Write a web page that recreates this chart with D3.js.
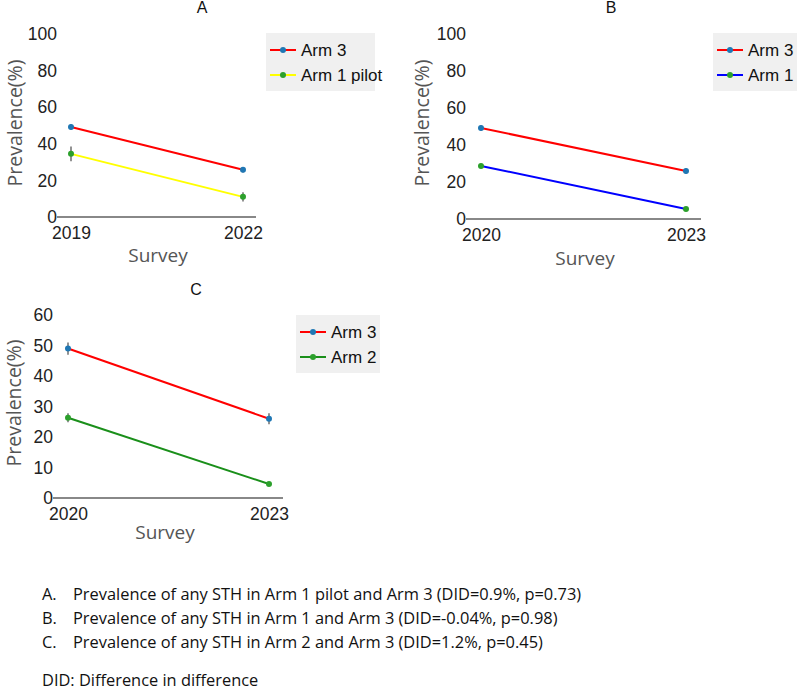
<!DOCTYPE html>
<html>
<head>
<meta charset="utf-8">
<script src="https://cdn.jsdelivr.net/npm/d3@7"></script>
<style>
	body { margin: 0; background: white; }
	svg { display: block; }
</style>
</head>
<body>
<div id="visualizationWrapper"></div>
<script>

let w = 797;
let h = 690;

// data
let titles = ["A", "B", "C"];

let yearsA = [2019, 2022];
let arm3A = [49.2, 25.8];
let arm3ErrA = [1.5, 1.5];
let arm1PilotA = [34.5, 11];
let arm1PilotErrA = [4, 2.5];

let yearsB = [2020, 2023];
let arm3B = [49.2, 26];
let arm3ErrB = [1.5, 1.5];
let arm1B = [28.7, 5.4];
let arm1ErrB = [1.2, 0.8];

let yearsC = [2020, 2023];
let arm3C = [49, 26];
let arm3ErrC = [2, 1.8];
let arm2C = [26.3, 4.6];
let arm2ErrC = [1.5, 0.6];

let yTicksAB = [0, 20, 40, 60, 80, 100];
let yTicksC = [0, 10, 20, 30, 40, 50, 60];

let legendA = ["Arm 3", "Arm 1 pilot"];
let legendB = ["Arm 3", "Arm 1"];
let legendC = ["Arm 3", "Arm 2"];

let notes = [
	["A.", "Prevalence of any STH in Arm 1 pilot and Arm 3 (DID=0.9%, p=0.73)"],
	["B.", "Prevalence of any STH in Arm 1 and Arm 3 (DID=-0.04%, p=0.98)"],
	["C.", "Prevalence of any STH in Arm 2 and Arm 3 (DID=1.2%, p=0.45)"]
];
let didNote = "DID: Difference in difference";


let viz = d3.select("#visualizationWrapper").append("svg")
	.attr("width", w)
	.attr("height", h)
	.style("background-color", "white")
;

let tickFont = "Liberation Sans, Arial, sans-serif";
let titleFont = "Open Sans, sans-serif";


function drawPanel(p){

	let g = viz.append("g").attr("class", "panel");

	let xScale = d3.scaleLinear().domain(p.years).range(p.xTicks);
	let yScale = d3.scaleLinear().domain([0, p.yMax]).range([p.y0, p.yTop]);

	// y axis labels, no tick marks, no domain line
	let yAxis = d3.axisLeft(yScale).tickValues(p.yTicks).tickSize(0).tickPadding(0);
	let yg = g.append("g").attr("transform", "translate(" + p.xLeft + ",0)").call(yAxis);
	yg.select(".domain").remove();
	yg.selectAll("text")
			.attr("font-family", tickFont)
			.attr("font-size", 17.5)
			.attr("fill", "#222")
	;

	// x axis
	let xAxis = d3.axisBottom(xScale).tickValues(p.years).tickSize(0).tickPadding(10).tickFormat(d3.format("d"));
	let xg = g.append("g").attr("transform", "translate(0," + p.y0 + ")").call(xAxis);
	xg.select(".domain").remove();
	xg.selectAll("text")
			.attr("font-family", tickFont)
			.attr("font-size", 17.5)
			.attr("fill", "#222")
	;

	g.append("line")
			.attr("x1", p.xLeft)
			.attr("x2", p.xRight)
			.attr("y1", p.y0)
			.attr("y2", p.y0)
			.attr("stroke", "#888")
			.attr("stroke-width", 2)
	;

	// title + axis titles
	g.append("text")
			.attr("x", p.titleX)
			.attr("y", p.titleY)
			.attr("text-anchor", "middle")
			.attr("font-family", tickFont)
			.attr("font-size", 16)
			.attr("fill", "#111")
			.text(p.title)
	;
	g.append("text")
			.attr("x", p.surveyX)
			.attr("y", p.surveyY)
			.attr("text-anchor", "middle")
			.attr("font-family", titleFont)
			.attr("font-size", 19)
			.attr("fill", "#555")
			.text("Survey")
	;
	g.append("text")
			.attr("transform", "translate(" + p.ylabX + "," + p.ylabY + ") rotate(-90)")
			.attr("text-anchor", "middle")
			.attr("font-family", titleFont)
			.attr("font-size", 19.5)
			.attr("fill", "#555")
			.text("Prevalence(%)")
	;

	// series
	p.series.forEach(function(s){
		let pts = p.years.map(function(yr, i){
			return {x: yr, v: s.values[i], e: s.errs[i]};
		});

		let line = d3.line()
				.x(function(d){ return xScale(d.x); })
				.y(function(d){ return yScale(d.v); })
		;
		g.append("path")
				.datum(pts)
				.attr("d", line)
				.attr("fill", "none")
				.attr("stroke", s.color)
				.attr("stroke-width", 2)
		;

		g.selectAll(null).data(pts).enter().append("line")
				.attr("x1", function(d){ return xScale(d.x); })
				.attr("x2", function(d){ return xScale(d.x); })
				.attr("y1", function(d){ return yScale(d.v - d.e); })
				.attr("y2", function(d){ return yScale(d.v + d.e); })
				.attr("stroke", "#777")
				.attr("stroke-width", 1.6)
		;

		g.selectAll(null).data(pts).enter().append("circle")
				.attr("cx", function(d){ return xScale(d.x); })
				.attr("cy", function(d){ return yScale(d.v); })
				.attr("r", 3)
				.attr("fill", s.marker)
		;
	});

	// legend
	let lg = g.append("g").attr("transform", "translate(" + p.legX + "," + p.legY + ")");
	lg.append("rect")
			.attr("width", p.legW)
			.attr("height", 58)
			.attr("fill", "#f0f0f0")
	;
	p.series.forEach(function(s, i){
		let yy = 17 + i * 25;
		lg.append("line")
				.attr("x1", 4).attr("x2", 30)
				.attr("y1", yy).attr("y2", yy)
				.attr("stroke", s.color)
				.attr("stroke-width", 2)
		;
		lg.append("circle")
				.attr("cx", 17).attr("cy", yy)
				.attr("r", 3)
				.attr("fill", s.marker)
		;
		lg.append("text")
				.attr("x", 35)
				.attr("y", yy + 6)
				.attr("font-family", tickFont)
				.attr("font-size", 17)
				.attr("fill", "#111")
				.text(s.name)
		;
	});
}


drawPanel({
	title: titles[0], years: yearsA, yMax: 100, yTicks: yTicksAB,
	xLeft: 57, xRight: 256, xTicks: [71, 243], y0: 217, yTop: 34,
	titleX: 202, titleY: 13, surveyX: 158, surveyY: 262, ylabX: 22, ylabY: 123,
	legX: 266, legY: 33, legW: 109,
	series: [
		{name: legendA[0], values: arm3A, errs: arm3ErrA, color: "#ff0000", marker: "#1f77b4"},
		{name: legendA[1], values: arm1PilotA, errs: arm1PilotErrA, color: "#ffff00", marker: "#2ca02c"}
	]
});

drawPanel({
	title: titles[1], years: yearsB, yMax: 100, yTicks: yTicksAB,
	xLeft: 466, xRight: 701, xTicks: [481, 686], y0: 219, yTop: 34,
	titleX: 611, titleY: 13, surveyX: 585, surveyY: 265, ylabX: 429, ylabY: 123,
	legX: 713, legY: 33, legW: 90,
	series: [
		{name: legendB[0], values: arm3B, errs: arm3ErrB, color: "#ff0000", marker: "#1f77b4"},
		{name: legendB[1], values: arm1B, errs: arm1ErrB, color: "#0000ff", marker: "#2ca02c"}
	]
});

drawPanel({
	title: titles[2], years: yearsC, yMax: 60, yTicks: yTicksC,
	xLeft: 53, xRight: 283, xTicks: [68, 269], y0: 498, yTop: 315,
	titleX: 196, titleY: 295, surveyX: 165, surveyY: 539, ylabX: 21, ylabY: 403,
	legX: 296, legY: 315, legW: 84,
	series: [
		{name: legendC[0], values: arm3C, errs: arm3ErrC, color: "#ff0000", marker: "#1f77b4"},
		{name: legendC[1], values: arm2C, errs: arm2ErrC, color: "#1a8f1a", marker: "#2ca02c"}
	]
});


// footnotes
let noteG = viz.append("g").attr("class", "notes");

noteG.selectAll(".noteLabel").data(notes).enter().append("text")
		.attr("class", "noteLabel")
		.attr("x", 42)
		.attr("y", function(d, i){ return 600 + i * 24; })
		.attr("font-family", titleFont)
		.attr("font-size", 16.4)
		.attr("fill", "#111")
		.text(function(d){ return d[0]; })
;
noteG.selectAll(".noteText").data(notes).enter().append("text")
		.attr("class", "noteText")
		.attr("x", 73)
		.attr("y", function(d, i){ return 600 + i * 24; })
		.attr("font-family", titleFont)
		.attr("font-size", 16.4)
		.attr("fill", "#111")
		.text(function(d){ return d[1]; })
;
noteG.append("text")
		.attr("x", 42)
		.attr("y", 686)
		.attr("font-family", titleFont)
		.attr("font-size", 16.4)
		.attr("fill", "#111")
		.text(didNote)
;

</script>
</body>
</html>
